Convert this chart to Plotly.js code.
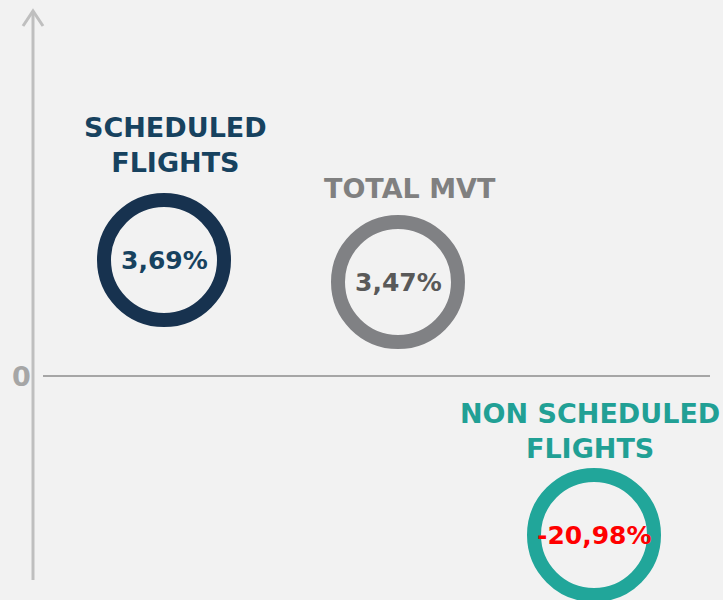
<!DOCTYPE html>
<html>
<head>
<meta charset="utf-8">
<script src="https://cdn.plot.ly/plotly-3.0.1.min.js"></script>
<style>html,body{margin:0;padding:0;background:#f2f2f2;}#chart{width:723px;height:600px;}</style>
</head>
<body>
<div id="chart"></div>
<script>
// Data
var categories = ["SCHEDULED<br>FLIGHTS", "TOTAL MVT", "NON SCHEDULED<br>FLIGHTS"];
var values = [3.69, 3.47, -20.98];
var zeroLabel = "0";

// Display layout (pixel-space design positions)
var posX = [164, 398, 594];
var posY = [260, 282, 535];
var labelX = [175, 410, 590];
var labelY = [145, 188, 431];
var ringColors = ["#17324f", "#808184", "#21a69a"];
var labelColors = ["#17425f", "#808080", "#21a095"];
var valueColors = ["#17425f", "#595959", "#ff0000"];

function fmt(v) { return v.toFixed(2).replace(".", ",") + "%"; }

var FONT = "DejaVu Sans, sans-serif";

var trace = {
  type: "scatter", mode: "markers",
  x: posX, y: posY,
  marker: {symbol: "circle-open", size: 120, color: ringColors, line: {width: 14, color: ringColors}},
  hoverinfo: "skip", showlegend: false, cliponaxis: false
};

var annotations = [];
for (var i = 0; i < categories.length; i++) {
  annotations.push({x: labelX[i], y: labelY[i], xref: "x", yref: "y", text: categories[i], showarrow: false,
    font: {family: FONT, size: 27, color: labelColors[i], weight: 700}, xanchor: "center", yanchor: "middle", align: "center"});
  annotations.push({x: posX[i], y: posY[i], xref: "x", yref: "y", text: fmt(values[i]), showarrow: false,
    font: {family: FONT, size: 25, color: valueColors[i], weight: 700}, xanchor: "center", yanchor: "middle"});
}
annotations.push({x: 21, y: 376, xref: "x", yref: "y", text: zeroLabel, showarrow: false,
  font: {family: FONT, size: 27, color: "#a6a6a6", weight: 700}, xanchor: "center", yanchor: "middle"});

var layout = {
  width: 723, height: 600,
  margin: {l: 0, r: 0, t: 0, b: 0},
  paper_bgcolor: "#f2f2f2", plot_bgcolor: "#f2f2f2",
  xaxis: {range: [0, 723], visible: false, fixedrange: true},
  yaxis: {range: [600, 0], visible: false, fixedrange: true},
  shapes: [
    {type: "line", x0: 33, x1: 33, y0: 580, y1: 11, line: {color: "#bfbfbf", width: 3}, layer: "below"},
    {type: "path", path: "M 23 26 L 33 11 L 43 26", line: {color: "#bfbfbf", width: 3}, layer: "below"},
    {type: "line", x0: 43, x1: 710, y0: 376, y1: 376, line: {color: "#a6a6a6", width: 2}, layer: "below"}
  ],
  annotations: annotations
};

Plotly.newPlot("chart", [trace], layout, {displayModeBar: false, staticPlot: true});
</script>
</body>
</html>
